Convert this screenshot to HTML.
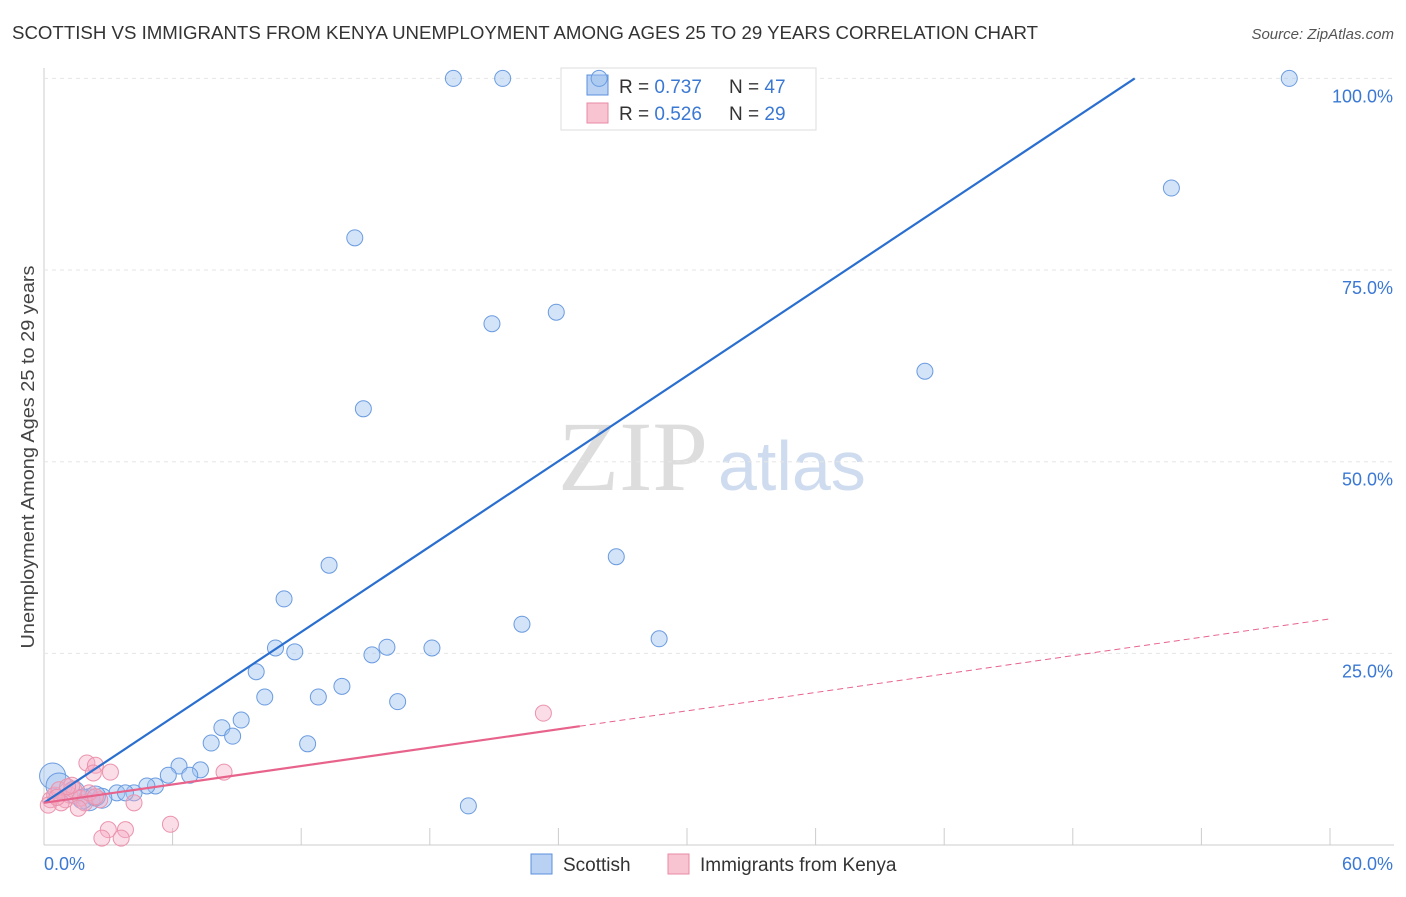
<!DOCTYPE html>
<html><head><meta charset="utf-8"><style>
body{margin:0;background:#fff;font-family:"Liberation Sans",sans-serif}
</style></head><body>
<svg id="c" width="1406" height="892" xmlns="http://www.w3.org/2000/svg">
<text x="12" y="39" font-size="18" fill="#333" textLength="1026" lengthAdjust="spacingAndGlyphs">SCOTTISH VS IMMIGRANTS FROM KENYA UNEMPLOYMENT AMONG AGES 25 TO 29 YEARS CORRELATION CHART</text>
<text x="1394" y="39" font-size="15" fill="#555" text-anchor="end" font-style="italic">Source: ZipAtlas.com</text>
<text transform="translate(34,457) rotate(-90)" font-size="18" fill="#444" text-anchor="middle" textLength="383" lengthAdjust="spacingAndGlyphs">Unemployment Among Ages 25 to 29 years</text>
<text x="558" y="490" font-size="100" fill="#ddd" font-family="Liberation Serif">ZIP</text>
<text x="718" y="490" font-size="70" fill="#cfdcef">atlas</text>
<g id="grid"></g>
<rect x="561" y="68" width="255" height="62" fill="#fff" stroke="#ddd"/>
<rect x="587" y="75" width="21" height="20" fill="#b9d1f3" stroke="#5b8fdc"/>
<rect x="587" y="103" width="21" height="20" fill="#f8c4d2" stroke="#e88aa4"/>
<text x="619" y="93" font-size="19" fill="#333">R = <tspan fill="#3a78d4">0.737</tspan></text>
<text x="729" y="93" font-size="19" fill="#333">N = <tspan fill="#3a78d4">47</tspan></text>
<text x="619" y="120" font-size="19" fill="#333">R = <tspan fill="#3a78d4">0.526</tspan></text>
<text x="729" y="120" font-size="19" fill="#333">N = <tspan fill="#3a78d4">29</tspan></text>
<g id="marks"></g>
<rect x="531" y="854" width="21" height="20" fill="#b9d1f3" stroke="#5b8fdc"/>
<text x="563" y="871" font-size="19" fill="#333">Scottish</text>
<rect x="668" y="854" width="21" height="20" fill="#f8c4d2" stroke="#e88aa4"/>
<text x="700" y="871" font-size="19" fill="#333">Immigrants from Kenya</text>
</svg>
<script>
const xTicks=[0,6,12,18,24,30,36,42,48,54,60];
const yTicks=[25,50,75,100];
const yTickLabels=["25.0%","50.0%","75.0%","100.0%"];
const scotX=[19.1,21.4,25.9,58.1,52.6,14.5,20.9,23.9,41.1,14.9,26.7,13.3,11.2,22.3,28.7,10.8,11.7,16.0,18.1,15.3,9.9,13.9,10.3,12.8,16.5,9.2,8.3,8.8,7.8,12.3,6.3,7.3,5.8,6.8,5.2,4.8,4.2,3.4,3.8,19.8,0.4,0.7,1.4,2.1,2.7,1.8,2.4];
const scotY=[100,100,100,100,85.7,79.2,68.0,69.5,61.8,56.9,37.6,36.5,32.1,28.8,26.9,25.7,25.2,25.8,25.7,24.8,22.6,20.7,19.3,19.3,18.7,16.3,15.3,14.2,13.3,13.2,10.3,9.8,9.1,9.1,7.7,7.7,6.8,6.8,6.8,5.1,9.0,7.7,6.9,5.9,6.1,6.0,6.4];
const scotR=[8,8,8,8,8,8,8,8,8,8,8,8,8,8,8,8,8,8,8,8,8,8,8,8,8,8,8,8,8,8,8,8,8,8,8,8,8,8,8,8,13,13,11,11,10,10,10];
const kenX=[23.3,2.0,2.4,3.1,8.4,2.3,4.2,5.9,3.0,3.8,2.7,3.6,0.3,0.5,0.7,1.0,1.2,1.4,1.7,1.9,2.6,1.3,0.8,2.1,0.2,1.6,0.6,1.1,2.4];
const kenY=[17.2,10.7,10.4,9.5,9.5,9.4,5.5,2.7,2.0,2.0,0.9,0.9,5.9,6.5,7.2,5.9,6.5,7.2,6.1,5.5,5.9,7.8,5.5,6.8,5.2,4.8,6.2,7.6,6.3];
const scotLine=[5.5,1.857]; // intercept, slope
const kenLine=[5.5,0.4];
const kenSolidEnd=25;
const X=v=>44+v*1286/60, Y=v=>845-v*7.666;
const ns="http://www.w3.org/2000/svg";
function mk(t,a,p){const e=document.createElementNS(ns,t);for(const k in a)e.setAttribute(k,a[k]);p.appendChild(e);return e;}
const g=document.getElementById('grid'),m=document.getElementById('marks');
mk('line',{x1:44,y1:68,x2:44,y2:845,stroke:'#ccc'},g);
mk('line',{x1:44,y1:845,x2:1394,y2:845,stroke:'#ccc'},g);
yTicks.forEach((t,i)=>{
 const l=mk('line',{x1:44,y1:Y(t),x2:1394,y2:Y(t),stroke:'#e5e5e5','stroke-dasharray':'4,4'},g);
 
 
 const tx=mk('text',{x:1393,y:Y(t)+24,'font-size':18,fill:'#3a78d4','text-anchor':'end'},g);
 tx.textContent=yTickLabels[i];
 
 
});
xTicks.forEach(t=>{
 const l=mk('line',{x1:X(t),y1:828,x2:X(t),y2:845,stroke:'#ccc'},g);
 
 
});
const xl=mk('text',{x:44,y:870,'font-size':18,fill:'#3a78d4'},g);xl.textContent=xTicks[0].toFixed(1)+'%';


const xr=mk('text',{x:1393,y:870,'font-size':18,fill:'#3a78d4','text-anchor':'end'},g);xr.textContent=xTicks[10].toFixed(1)+'%';


scotX.forEach((v,i)=>{
 const c=mk('circle',{cx:X(v),cy:Y(scotY[i]),r:scotR[i],fill:'rgba(160,195,240,0.45)',stroke:'#6a9be0','stroke-width':1},m);
 
 
});
kenX.forEach((v,i)=>{
 const c=mk('circle',{cx:X(v),cy:Y(kenY[i]),r:8,fill:'rgba(245,170,195,0.4)',stroke:'#eb93ad','stroke-width':1},m);
 
 
});
const xEnd=(100-scotLine[0])/scotLine[1];
const bl=mk('line',{x1:X(0),y1:Y(scotLine[0]),x2:X(xEnd),y2:Y(100),stroke:'#2a6fd0','stroke-width':2.2},m);


const pl=mk('line',{x1:X(0),y1:Y(kenLine[0]),x2:X(kenSolidEnd),y2:Y(kenLine[0]+kenLine[1]*kenSolidEnd),stroke:'#e8638c','stroke-width':2.2},m);


const pd=mk('line',{x1:X(kenSolidEnd),y1:Y(kenLine[0]+kenLine[1]*kenSolidEnd),x2:X(60),y2:Y(kenLine[0]+kenLine[1]*60),stroke:'#e8638c','stroke-width':1,'stroke-dasharray':'6,4'},m);


</script>
</body></html>
